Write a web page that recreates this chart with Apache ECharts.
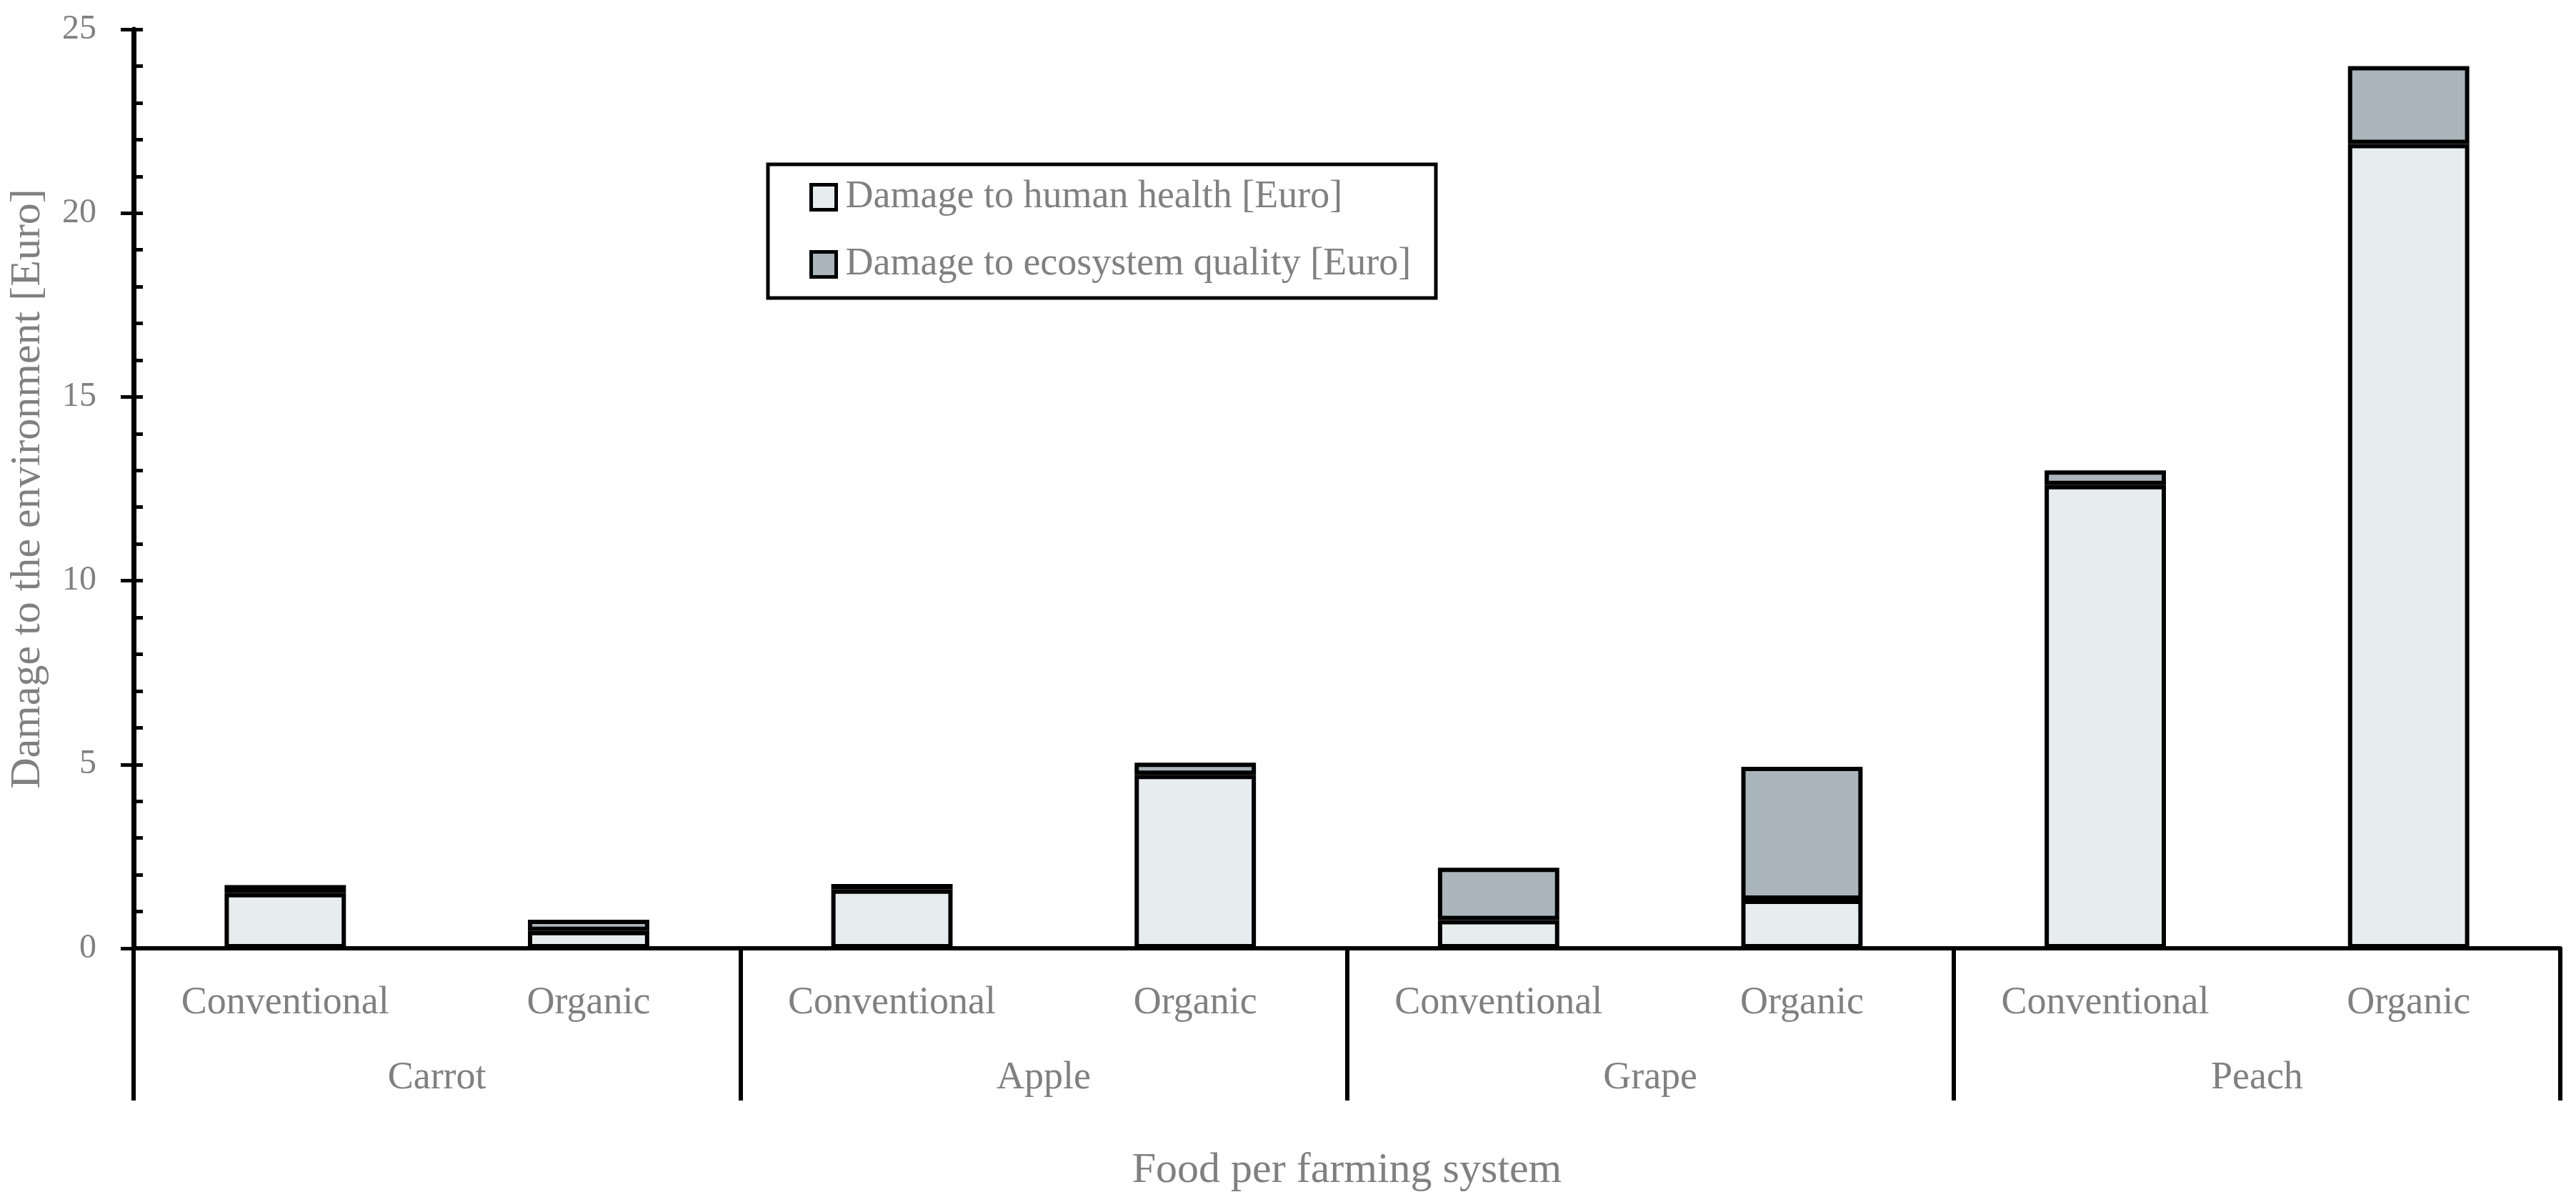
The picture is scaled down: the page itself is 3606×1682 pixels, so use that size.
<!DOCTYPE html>
<html>
<head>
<meta charset="utf-8">
<script src="https://cdn.jsdelivr.net/npm/echarts@6/dist/echarts.min.js"></script>
<style>
html, body { margin: 0; padding: 0; background: #fff; }
#chart { width: 3606px; height: 1682px; }
</style>
</head>
<body>
<div id="chart"></div>
<script>
// data
var foods = ['Carrot', 'Apple', 'Grape', 'Peach'];
var systems = ['Conventional', 'Organic'];
var humanHealth = [1.50, 0.47, 1.60, 4.72, 0.77, 1.32, 12.60, 21.88];
var ecosystem = [0.22, 0.31, 0.15, 0.33, 1.42, 3.62, 0.40, 2.12];
var yTicks = [0, 5, 10, 15, 20, 25];
var seriesNames = ['Damage to human health [Euro]', 'Damage to ecosystem quality [Euro]'];

var FONT = 'Liberation Serif';
var GREY = '#808080';

// one key per bar, e.g. "Carrot|Organic"
var barKeys = [];
foods.forEach(function (f) {
    systems.forEach(function (s) {
        barKeys.push(f + '|' + s);
    });
});

var myChart = echarts.init(document.getElementById('chart'));

var option = {
    animation: false,
    backgroundColor: '#fff',
    grid: { left: 187, right: 22, top: 41, bottom: 355, containLabel: false },
    graphic: [{
        type: 'rect',
        shape: { x: 1075, y: 230, width: 935, height: 187 },
        style: { fill: '#fff', stroke: '#000', lineWidth: 5 },
        z: 5
    }],
    legend: {
        orient: 'vertical',
        left: 1133,
        top: 248,
        padding: 0,
        itemGap: 38,
        itemWidth: 35,
        itemHeight: 35,
        icon: 'rect',
        z: 10,
        itemStyle: { borderColor: '#000', borderWidth: 5 },
        textStyle: { fontFamily: FONT, fontSize: 54, color: GREY, lineHeight: 56, padding: [0, 0, 0, 8] },
        data: seriesNames
    },
    xAxis: [
        {
            type: 'category',
            data: barKeys,
            position: 'bottom',
            axisLine: { lineStyle: { color: '#000', width: 6 } },
            axisTick: { show: false },
            splitLine: { show: false },
            axisLabel: {
                interval: 0,
                margin: 50,
                fontFamily: FONT,
                fontSize: 54,
                color: GREY,
                formatter: function (v) { return v.split('|')[1]; }
            }
        },
        {
            type: 'category',
            data: foods,
            position: 'bottom',
            axisLine: { show: false },
            axisTick: { show: true, length: 213, lineStyle: { color: '#000', width: 6 } },
            splitLine: { show: false },
            axisLabel: { interval: 0, margin: 155, fontFamily: FONT, fontSize: 54, color: GREY },
            name: 'Food per farming system',
            nameLocation: 'middle',
            nameGap: 281,
            nameTextStyle: { fontFamily: FONT, fontSize: 60, color: GREY }
        }
    ],
    yAxis: [
        {
            type: 'value',
            position: 'left',
            min: yTicks[0],
            max: yTicks[yTicks.length - 1],
            interval: 5,
            axisLine: { show: true, lineStyle: { color: '#000', width: 7 } },
            axisTick: { show: true, inside: false, length: 18, lineStyle: { color: '#000', width: 5 } },
            splitLine: { show: false },
            axisLabel: { margin: 52, fontFamily: FONT, fontSize: 48, color: GREY },
            name: 'Damage to the environment [Euro]',
            nameLocation: 'middle',
            nameRotate: 90,
            nameGap: 118,
            nameTextStyle: { fontFamily: FONT, fontSize: 60, color: GREY }
        },
        {
            // inner ticks + minor ticks
            type: 'value',
            position: 'left',
            min: yTicks[0],
            max: yTicks[yTicks.length - 1],
            interval: 5,
            axisLine: { show: false },
            axisLabel: { show: false },
            splitLine: { show: false },
            axisTick: { show: true, inside: true, length: 13, lineStyle: { color: '#000', width: 5 } },
            minorTick: { show: true, splitNumber: 5, length: 13, lineStyle: { color: '#000', width: 5 } },
            minorSplitLine: { show: false }
        }
    ],
    series: [
        {
            name: seriesNames[0],
            type: 'bar',
            stack: 'total',
            xAxisIndex: 0,
            yAxisIndex: 0,
            barWidth: '40%',
            itemStyle: { color: '#e7ecef', borderColor: '#000', borderWidth: 6 },
            data: humanHealth
        },
        {
            name: seriesNames[1],
            type: 'bar',
            stack: 'total',
            xAxisIndex: 0,
            yAxisIndex: 0,
            barWidth: '40%',
            itemStyle: { color: '#aab5bc', borderColor: '#000', borderWidth: 6 },
            data: ecosystem
        }
    ]
};

myChart.setOption(option);
</script>
</body>
</html>
